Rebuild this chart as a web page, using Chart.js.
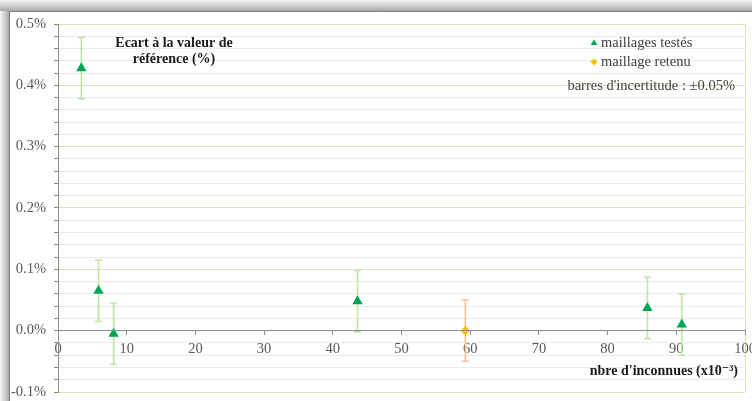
<!DOCTYPE html>
<html>
<head>
<meta charset="utf-8">
<script src="https://cdn.jsdelivr.net/npm/chart.js@4/dist/chart.umd.min.js"></script>
<style>
  html, body { margin: 0; padding: 0; background: #fff; overflow: hidden; }
  canvas { display: block; }
</style>
</head>
<body>
<canvas id="chart" width="752" height="401"></canvas>
<script>
// Tested meshes: unknowns (x10^-3) and deviation from the reference value (%)
const testedX = [3.4, 5.9, 8.1, 43.6, 85.8, 90.8];
const testedY = [0.428, 0.065, -0.005, 0.048, 0.037, 0.010];
// Retained mesh
const retainedX = [59.3];
const retainedY = [0.0];
// Uncertainty half-width (%)
const uncertainty = 0.05;

const seriesLabels = ['maillages testés', 'maillage retenu'];
const titleLines = ['Ecart à la valeur de', 'référence (%)'];
const noteText = "barres d'incertitude : ±0.05%";
const xTitle = "nbre d'inconnues (x10⁻³)";
const xRange = [0, 100, 10];
const yRange = [-0.1, 0.5, 0.02];

const toPoints = (xs, ys) => xs.map((x, i) => ({ x: x, y: ys[i] }));

const SERIF = "'Liberation Serif', 'DejaVu Serif', serif";
Chart.defaults.font.family = SERIF;
Chart.defaults.font.size = 14.5;
Chart.defaults.color = '#595959';

const GREEN_GRID = '#d6e3bb';
const BLUE_GRID = '#e1ecf6';
const AXIS_GREY = '#8c8c8c';

const isMajor = v => Math.abs(v * 10 - Math.round(v * 10)) < 1e-6;

// White chart box with a soft shadow along its top and left edges
const chartBox = {
  id: 'chartBox',
  beforeDraw(chart) {
    const { ctx, width, height } = chart;
    const bx = 9, by = 11;
    ctx.save();
    ctx.fillStyle = '#ffffff';
    ctx.fillRect(0, 0, width, height);
    let g = ctx.createLinearGradient(0, 0, 0, by);
    g.addColorStop(0, '#f4f4f4');
    g.addColorStop(0.6, '#cacaca');
    g.addColorStop(1, '#a8a8a8');
    ctx.fillStyle = g;
    ctx.fillRect(0, 0, width, by);
    g = ctx.createLinearGradient(0, 0, bx, 0);
    g.addColorStop(0, '#f4f4f4');
    g.addColorStop(0.6, '#cacaca');
    g.addColorStop(1, '#a8a8a8');
    ctx.fillStyle = g;
    ctx.fillRect(0, by, bx, height - by);
    ctx.strokeStyle = '#808080';
    ctx.lineWidth = 1;
    ctx.beginPath();
    ctx.moveTo(bx + 0.5, height);
    ctx.lineTo(bx + 0.5, by + 0.5);
    ctx.lineTo(width, by + 0.5);
    ctx.stroke();
    ctx.restore();
  }
};

// Vertical uncertainty bars with caps, drawn beneath the markers
const errorBars = {
  id: 'errorBars',
  beforeDatasetsDraw(chart) {
    const { ctx } = chart;
    const ys = chart.scales.y;
    ctx.save();
    chart.data.datasets.forEach((ds, di) => {
      const meta = chart.getDatasetMeta(di);
      ctx.strokeStyle = ds.errorBarColor;
      ctx.lineWidth = 1.6;
      meta.data.forEach((el, i) => {
        const v = ds.data[i].y;
        const top = ys.getPixelForValue(v + uncertainty);
        const bot = ys.getPixelForValue(v - uncertainty);
        const x = el.x;
        ctx.beginPath();
        ctx.moveTo(x, top); ctx.lineTo(x, bot);
        ctx.moveTo(x - 3.5, top); ctx.lineTo(x + 3.5, top);
        ctx.moveTo(x - 3.5, bot); ctx.lineTo(x + 3.5, bot);
        ctx.stroke();
      });
    });
    ctx.restore();
  }
};

// In-plot title, legend, note and axis title
const overlay = {
  id: 'overlay',
  afterDraw(chart) {
    const { ctx, chartArea: a } = chart;
    ctx.save();
    ctx.textBaseline = 'middle';

    ctx.font = "bold 14px " + SERIF;
    ctx.fillStyle = '#1a1a1a';
    ctx.textAlign = 'center';
    titleLines.forEach((t, i) => ctx.fillText(t, a.left + 116, a.top + 19 + i * 16.5));

    ctx.font = "14.5px " + SERIF;
    ctx.textAlign = 'left';
    chart.data.datasets.forEach((ds, i) => {
      const y = a.top + 19 + i * 19;
      ctx.fillStyle = ds.backgroundColor;
      Chart.helpers.drawPoint(ctx, {
        pointStyle: ds.pointStyle, radius: ds.legendRadius, rotation: 0, borderWidth: 0
      }, a.right - 151, y);
      ctx.fillStyle = '#404040';
      ctx.fillText(ds.label, a.right - 144, y);
    });

    ctx.textAlign = 'right';
    ctx.fillStyle = '#404040';
    ctx.fillText(noteText, a.right - 10, a.top + 62);

    ctx.font = "bold 14px " + SERIF;
    ctx.fillStyle = '#1a1a1a';
    ctx.fillText(xTitle, a.right - 7, a.bottom - 21);
    ctx.restore();
  }
};

new Chart(document.getElementById('chart'), {
  type: 'scatter',
  data: {
    datasets: [
      {
        label: seriesLabels[0],
        data: toPoints(testedX, testedY),
        pointStyle: 'triangle',
        radius: 6,
        backgroundColor: '#00a651',
        borderColor: '#00a651',
        borderWidth: 0,
        errorBarColor: '#c4e3a6',
        legendRadius: 3.8
      },
      {
        label: seriesLabels[1],
        data: toPoints(retainedX, retainedY),
        pointStyle: 'rectRot',
        radius: 4.8,
        backgroundColor: '#ffc000',
        borderColor: '#ffc000',
        borderWidth: 0,
        errorBarColor: '#f6bd92',
        legendRadius: 3.5
      }
    ]
  },
  options: {
    responsive: false,
    animation: false,
    layout: { padding: { left: 0, top: 24, right: 7, bottom: 9 } },
    plugins: { legend: { display: false }, tooltip: { enabled: false } },
    scales: {
      x: {
        type: 'linear',
        position: { y: 0 },
        min: xRange[0], max: xRange[1],
        ticks: { stepSize: xRange[2], autoSkip: false, maxRotation: 0, padding: 6 },
        grid: {
          color: ctx => (ctx.tick && ctx.tick.value === xRange[1]) ? GREEN_GRID : 'rgba(0,0,0,0)',
          tickColor: AXIS_GREY,
          tickLength: 4,
          drawTicks: true
        },
        border: { display: true, color: AXIS_GREY, z: 1 },
        afterFit: s => { s.height = 0; s.paddingLeft = 0; s.paddingRight = 0; }
      },
      y: {
        type: 'linear',
        position: 'left',
        min: yRange[0], max: yRange[1],
        ticks: {
          stepSize: yRange[2],
          autoSkip: false,
          padding: 8,
          callback: v => isMajor(v) ? v.toFixed(1) + '%' : ''
        },
        grid: {
          color: ctx => (ctx.tick && isMajor(ctx.tick.value)) ? GREEN_GRID : BLUE_GRID,
          tickColor: AXIS_GREY,
          tickLength: 4
        },
        border: { display: true, color: AXIS_GREY, z: 1 },
        afterFit: s => { s.width = 58; s.paddingTop = 0; s.paddingBottom = 0; }
      }
    }
  },
  plugins: [chartBox, errorBars, overlay]
});
</script>
</body>
</html>
